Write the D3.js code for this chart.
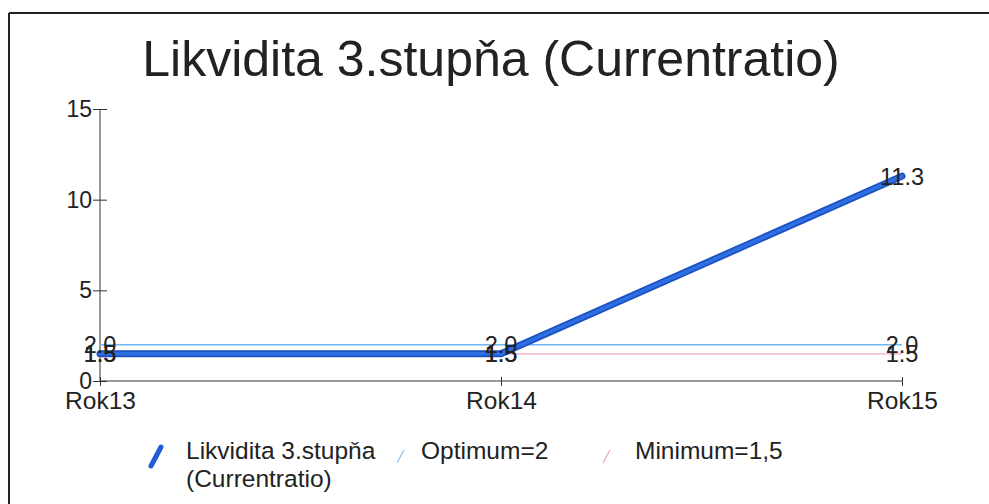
<!DOCTYPE html>
<html><head><meta charset="utf-8">
<script src="https://cdn.jsdelivr.net/npm/d3@7"></script>
<style>
html,body{margin:0;padding:0;background:#fff;}
svg{display:block;font-family:"Liberation Sans",Arial,Helvetica,sans-serif;}
</style></head>
<body>
<svg id="c" width="989" height="504"></svg>
<script>
const title = "Likvidita 3.stupňa (Currentratio)";
const categories = ["Rok13", "Rok14", "Rok15"];
const likvidita = [1.5, 1.5, 11.3];
const optimum = [2.0, 2.0, 2.0];
const minimum = [1.5, 1.5, 1.5];
const yTicks = [0, 5, 10, 15];
const seriesNames = ["Likvidita 3.stupňa", "(Currentratio)", "Optimum=2", "Minimum=1,5"];

const svg = d3.select("#c");
const W = 989, H = 504;

// frame (top and left edges visible in the scan)
svg.append("line").attr("x1", 9).attr("x2", W).attr("y1", 13).attr("y2", 13).attr("stroke", "#222").attr("stroke-width", 2);
svg.append("line").attr("x1", 9).attr("x2", 9).attr("y1", 13).attr("y2", H).attr("stroke", "#222").attr("stroke-width", 2);

svg.append("text").attr("x", 491).attr("y", 76).attr("text-anchor", "middle")
  .attr("font-size", 50).attr("fill", "#222").text(title);

const x = d3.scalePoint().domain(categories).range([100, 902]);
const y = d3.scaleLinear().domain([0, 15]).range([381, 109]);

// y axis
const ya = svg.append("g").attr("transform", "translate(100,0)")
  .call(d3.axisLeft(y).tickValues(yTicks).tickSize(7).tickPadding(1));
ya.selectAll(".tick line").attr("x1", 7).attr("x2", -7).attr("stroke", "#333");
ya.selectAll("text").attr("font-size", 23).attr("fill", "#222").attr("font-family", "Liberation Sans, Arial, sans-serif");
ya.select(".domain").attr("d", `M0,${y(15)}V${y(0)}`).attr("stroke", "#333");

// x axis
const xa = svg.append("g").attr("transform", "translate(0,381)")
  .call(d3.axisBottom(x).tickSize(5).tickPadding(6));
xa.selectAll(".tick line").attr("y1", -4).attr("y2", 5).attr("stroke", "#333");
xa.select(".domain").attr("d", `M100,0H902`).attr("stroke", "#333");
xa.selectAll("text").attr("font-size", 24.5).attr("fill", "#222").attr("font-family", "Liberation Sans, Arial, sans-serif");

const line = d3.line().x((d, i) => x(categories[i])).y(d => y(d));

svg.append("path").datum(minimum).attr("d", line).attr("fill", "none").attr("stroke", "#f2a6c6").attr("stroke-width", 1.3);
svg.append("path").datum(optimum).attr("d", line).attr("fill", "none").attr("stroke", "#6fb6f2").attr("stroke-width", 1.3);
svg.append("path").datum(likvidita).attr("d", line).attr("fill", "none").attr("stroke", "#1a52c4").attr("stroke-width", 7).attr("stroke-linecap", "round").attr("stroke-linejoin", "round");
svg.append("path").datum(likvidita).attr("d", line).attr("fill", "none").attr("stroke", "#2f6fe2").attr("stroke-width", 3.5).attr("stroke-linecap", "round").attr("stroke-linejoin", "round");

// data labels
function labels(data) {
  svg.append("g").selectAll("text").data(data).join("text")
    .attr("x", (d, i) => x(categories[i])).attr("y", d => y(d)).attr("dy", "0.36em")
    .attr("text-anchor", "middle").attr("font-size", 23.5).attr("fill", "#222")
    .text(d => d.toFixed(1));
}
labels(optimum);
labels(minimum);
labels(likvidita);

// legend
const lg = svg.append("g");
lg.append("line").attr("x1", 151).attr("y1", 466).attr("x2", 161).attr("y2", 447)
  .attr("stroke", "#1f5fd6").attr("stroke-width", 5).attr("stroke-linecap", "round");
lg.append("text").attr("x", 186).attr("y", 459).attr("font-size", 24.5).attr("fill", "#222").text(seriesNames[0]);
lg.append("text").attr("x", 186).attr("y", 487).attr("font-size", 24.5).attr("fill", "#222").text(seriesNames[1]);
lg.append("line").attr("x1", 397).attr("y1", 463).attr("x2", 404).attr("y2", 450)
  .attr("stroke", "#8cc4f2").attr("stroke-width", 1.3);
lg.append("text").attr("x", 421).attr("y", 459).attr("font-size", 24.5).attr("fill", "#222").text(seriesNames[2]);
lg.append("line").attr("x1", 603).attr("y1", 463).attr("x2", 610).attr("y2", 450)
  .attr("stroke", "#f2a6c6").attr("stroke-width", 1.3);
lg.append("text").attr("x", 635).attr("y", 459).attr("font-size", 24.5).attr("fill", "#222").text(seriesNames[3]);
</script>
</body></html>
